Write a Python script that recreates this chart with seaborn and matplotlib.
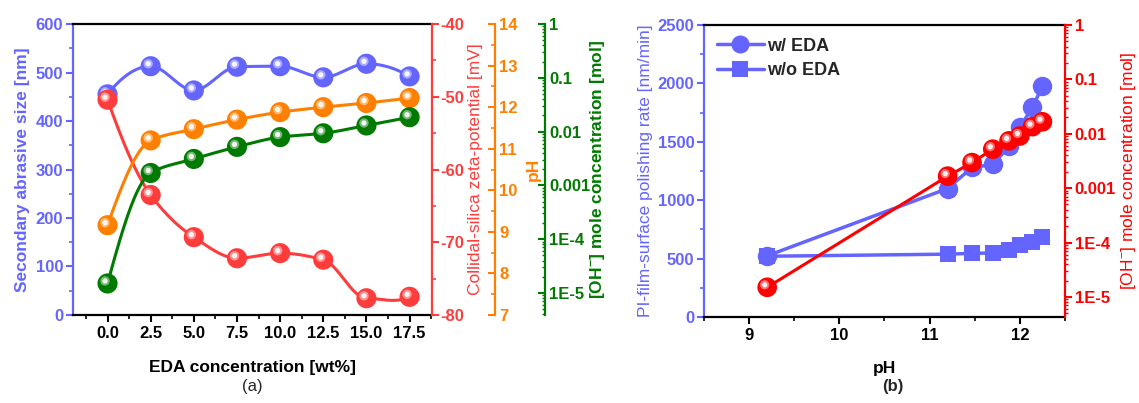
import numpy as np
import matplotlib
matplotlib.use("Agg")
import matplotlib.pyplot as plt
import matplotlib.transforms as mtransforms
from matplotlib.lines import Line2D
from matplotlib.ticker import MultipleLocator, LogLocator, FixedFormatter, FixedLocator, NullFormatter
import seaborn as sns

# ---- data: panel (a) ----
eda_wt = [0.0, 2.5, 5.0, 7.5, 10.0, 12.5, 15.0, 17.5]
abrasive_size = [455, 513, 463, 512, 513, 490, 518, 492]
zeta_potential = [-50.4, -63.5, -69.3, -72.2, -71.5, -72.4, -77.7, -77.5]
ph_a = [9.16, 11.2, 11.47, 11.7, 11.88, 12.0, 12.1, 12.22]
oh_a = [1.5e-5, 1.7e-3, 3.1e-3, 5.2e-3, 7.9e-3, 9.3e-3, 1.3e-2, 1.85e-2]

# ---- data: panel (b) ----
ph_b = [9.2, 11.2, 11.47, 11.7, 11.88, 12.0, 12.14, 12.25]
rate_with_eda = [524, 1100, 1280, 1306, 1460, 1624, 1795, 1976]
rate_without_eda = [520, 538, 545, 548, 575, 615, 640, 688]
oh_b = [1.5e-5, 1.66e-3, 2.95e-3, 5.2e-3, 7.4e-3, 9.1e-3, 1.35e-2, 1.66e-2]

log_ticks = [1e-5, 1e-4, 1e-3, 1e-2, 1e-1, 1]
log_labels = ["1E-5", "1E-4", "0.001", "0.01", "0.1", "1"]

BLUE = "#6464ff"
RED = "#ff3c3c"
RED_B = "#ff0000"
ORANGE = "#ff8000"
GREEN = "#007a00"
TICK_FS = 12
LABEL_FS = 12.5

sns.set_theme(style="white")
plt.rcParams["font.family"] = ["Liberation Sans", "DejaVu Sans"]
plt.rcParams["mathtext.fontset"] = "custom"
plt.rcParams["mathtext.rm"] = "Liberation Sans"
plt.rcParams["mathtext.bf"] = "Liberation Sans:bold"
plt.rcParams["axes.unicode_minus"] = False


def smooth(x, y, n=24):
    # monotone cubic (PCHIP) curve through the points, for drawing only
    x = np.asarray(x, float)
    y = np.asarray(y, float)
    h = np.diff(x)
    delta = np.diff(y) / h
    d = np.zeros_like(y)
    for k in range(1, len(x) - 1):
        if delta[k - 1] * delta[k] > 0:
            w1 = 2 * h[k] + h[k - 1]
            w2 = h[k] + 2 * h[k - 1]
            d[k] = (w1 + w2) / (w1 / delta[k - 1] + w2 / delta[k])
    for k, (ha, hb, da, db) in ((0, (h[0], h[1], delta[0], delta[1])),
                                (-1, (h[-1], h[-2], delta[-1], delta[-2]))):
        v = ((2 * ha + hb) * da - ha * db) / (ha + hb)
        if np.sign(v) != np.sign(da):
            v = 0.0
        d[k] = v
    xs, ys = [], []
    t = np.linspace(0, 1, n, endpoint=False)
    for k in range(len(x) - 1):
        h00 = 2 * t ** 3 - 3 * t ** 2 + 1
        h10 = t ** 3 - 2 * t ** 2 + t
        h01 = -2 * t ** 3 + 3 * t ** 2
        h11 = t ** 3 - t ** 2
        xs.append(x[k] + t * h[k])
        ys.append(h00 * y[k] + h10 * h[k] * d[k] + h01 * y[k + 1] + h11 * h[k] * d[k + 1])
    xs.append([x[-1]])
    ys.append([y[-1]])
    return np.concatenate(xs), np.concatenate(ys)


def balls(ax, x, y, color, size=210, z=5):
    sns.scatterplot(x=x, y=y, ax=ax, color=color, s=size, edgecolor="none", zorder=z, legend=False)
    off = mtransforms.offset_copy(ax.transData, fig=ax.figure, x=-2.5, y=2.5, units="dots")
    sns.scatterplot(x=x, y=y, ax=ax, color="white", s=size * 0.22, alpha=0.45, edgecolor="none",
                    zorder=z + 0.1, legend=False, transform=off)
    sns.scatterplot(x=x, y=y, ax=ax, color="white", s=size * 0.07, alpha=0.9, edgecolor="none",
                    zorder=z + 0.2, legend=False, transform=off)


def style_axis_color(ax, side, color):
    ax.spines[side].set_color(color)
    ax.spines[side].set_linewidth(1.6)
    ax.tick_params(axis="y", which="both", colors=color)


fig = plt.figure(figsize=(11.39, 4.03), dpi=100)

# ================= panel (a) =================
ax = fig.add_axes([0.0641, 0.2184, 0.3152, 0.722])
axr = ax.twinx()
axo = ax.twinx()
axg = ax.twinx()

xs, ys = smooth(eda_wt, abrasive_size)
sns.lineplot(x=xs, y=ys, ax=ax, color=BLUE, lw=2.2, sort=False, estimator=None)
balls(ax, eda_wt, abrasive_size, BLUE)

xs, ys = smooth(eda_wt, zeta_potential)
sns.lineplot(x=xs, y=ys, ax=axr, color=RED, lw=2.2, sort=False, estimator=None)
balls(axr, eda_wt, zeta_potential, RED)

xs, ys = smooth(eda_wt, ph_a)
sns.lineplot(x=xs, y=ys, ax=axo, color=ORANGE, lw=2.2, sort=False, estimator=None)
balls(axo, eda_wt, ph_a, ORANGE)

xs, ys = smooth(eda_wt, np.log10(oh_a))
axg.set_yscale("log")
sns.lineplot(x=xs, y=10 ** ys, ax=axg, color=GREEN, lw=2.2, sort=False, estimator=None)
balls(axg, eda_wt, oh_a, GREEN)

ax.set_xlim(-2.0, 18.8)
ax.set_ylim(0, 600)
axr.set_ylim(-80, -40)
axo.set_ylim(7, 14)
axg.set_ylim(10 ** -5.41, 1)

ax.xaxis.set_major_locator(FixedLocator(eda_wt))
ax.xaxis.set_major_formatter(FixedFormatter(["0.0", "2.5", "5.0", "7.5", "10.0", "12.5", "15.0", "17.5"]))
ax.xaxis.set_minor_locator(MultipleLocator(1.25))
ax.yaxis.set_major_locator(MultipleLocator(100))
ax.yaxis.set_minor_locator(MultipleLocator(50))
axr.yaxis.set_major_locator(MultipleLocator(10))
axr.yaxis.set_minor_locator(MultipleLocator(5))
axo.yaxis.set_major_locator(MultipleLocator(1))
axo.yaxis.set_minor_locator(MultipleLocator(0.5))
axg.yaxis.set_major_locator(FixedLocator(log_ticks))
axg.yaxis.set_major_formatter(FixedFormatter(log_labels))
axg.yaxis.set_minor_locator(LogLocator(base=10, subs=np.arange(2, 10), numticks=20))
axg.yaxis.set_minor_formatter(NullFormatter())

for a in (ax, axr, axo, axg):
    for s in a.spines.values():
        s.set_visible(False)
ax.spines["left"].set_visible(True)
ax.spines["bottom"].set_visible(True)
ax.spines["top"].set_visible(True)
for s in ("bottom", "top"):
    ax.spines[s].set_color("black")
    ax.spines[s].set_linewidth(1.6)
style_axis_color(ax, "left", BLUE)
axr.spines["right"].set_visible(True)
style_axis_color(axr, "right", RED)
axo.spines["right"].set_visible(True)
axo.spines["right"].set_position(("axes", 1.175))
style_axis_color(axo, "right", ORANGE)
axg.spines["right"].set_visible(True)
axg.spines["right"].set_position(("axes", 1.315))
style_axis_color(axg, "right", GREEN)

ax.tick_params(axis="x", which="major", direction="out", length=5, width=1.5, colors="black",
               bottom=True, labelsize=TICK_FS, pad=3)
ax.tick_params(axis="x", which="minor", direction="out", length=3, width=1.2, bottom=True, colors="black")
ax.tick_params(axis="y", which="major", direction="out", length=5, width=1.5, left=True, labelsize=TICK_FS, pad=2)
ax.tick_params(axis="y", which="minor", direction="out", length=3, width=1.2, left=True)
axr.tick_params(axis="y", which="major", direction="out", length=5, width=1.5, right=True, labelsize=TICK_FS, pad=1)
axr.tick_params(axis="y", which="minor", direction="out", length=3, width=1.2, right=True)
axo.tick_params(axis="y", which="major", direction="in", length=5, width=1.5, right=True, labelsize=TICK_FS, pad=3)
axo.tick_params(axis="y", which="minor", direction="in", length=3, width=1.2, right=True)
axg.tick_params(axis="y", which="major", direction="in", length=5, width=1.5, right=True, labelsize=TICK_FS, pad=3)
axg.tick_params(axis="y", which="minor", direction="in", length=2.5, width=1.0, right=True)

for lab in ax.get_xticklabels() + ax.get_yticklabels():
    lab.set_fontweight("bold")
for a in (axr, axo, axg):
    for lab in a.get_yticklabels():
        lab.set_fontweight("bold")

ax.set_xlabel("EDA concentration [wt%]", fontsize=LABEL_FS, fontweight="bold", color="black")
ax.xaxis.set_label_coords(0.5, -0.155)
ax.set_ylabel("Secondary abrasive size [nm]", fontsize=LABEL_FS, fontweight="bold", color=BLUE)
axr.set_ylabel("Collidal-silica zeta-potential [mV]", fontsize=LABEL_FS, color=RED)
axo.set_ylabel("pH", fontsize=LABEL_FS, fontweight="bold", color=ORANGE)
axg.set_ylabel(r"[OH$^{\mathbf{-}}$] mole concentration [mol]", fontsize=LABEL_FS, fontweight="bold", color=GREEN)
for a, xc in ((ax, -0.142), (axr, 1.12), (axo, 1.281), (axg, 1.46)):
    a.yaxis.label.set_va("center")
    a.yaxis.set_label_coords(xc, 0.5)
for a in (ax, axr, axo, axg):
    a.grid(False)

# ================= panel (b) =================
bx = fig.add_axes([0.6181, 0.2134, 0.3169, 0.7246])
bxr = bx.twinx()

sns.lineplot(x=ph_b, y=rate_with_eda, ax=bx, color=BLUE, lw=2.5, marker="o", markersize=14,
             markeredgewidth=0, sort=False, estimator=None)
sns.lineplot(x=ph_b, y=rate_without_eda, ax=bx, color=BLUE, lw=2.5, marker="s", markersize=12,
             markeredgewidth=0, sort=False, estimator=None)
bxr.set_yscale("log")
sns.lineplot(x=ph_b, y=oh_b, ax=bxr, color=RED_B, lw=2.2, sort=False, estimator=None)
balls(bxr, ph_b, oh_b, RED_B, size=200)

bx.set_xlim(8.5, 12.5)
bx.set_ylim(0, 2500)
bxr.set_ylim(10 ** -5.37, 1)
bx.xaxis.set_major_locator(MultipleLocator(1))
bx.xaxis.set_minor_locator(MultipleLocator(0.5))
bx.yaxis.set_major_locator(MultipleLocator(500))
bx.yaxis.set_minor_locator(MultipleLocator(250))
bxr.yaxis.set_major_locator(FixedLocator(log_ticks))
bxr.yaxis.set_major_formatter(FixedFormatter(log_labels))
bxr.yaxis.set_minor_locator(LogLocator(base=10, subs=np.arange(2, 10), numticks=20))
bxr.yaxis.set_minor_formatter(NullFormatter())

for a in (bx, bxr):
    for s in a.spines.values():
        s.set_visible(False)
for s in ("left", "bottom", "top"):
    bx.spines[s].set_visible(True)
for s in ("bottom", "top"):
    bx.spines[s].set_color("black")
    bx.spines[s].set_linewidth(1.6)
style_axis_color(bx, "left", BLUE)
bxr.spines["right"].set_visible(True)
style_axis_color(bxr, "right", RED_B)

bx.tick_params(axis="x", which="major", direction="out", length=5, width=1.5, colors="black",
               bottom=True, labelsize=TICK_FS, pad=3)
bx.tick_params(axis="x", which="minor", direction="out", length=3, width=1.2, bottom=True, colors="black")
bx.tick_params(axis="y", which="major", direction="out", length=5, width=1.5, left=True, labelsize=TICK_FS, pad=2)
bx.tick_params(axis="y", which="minor", direction="out", length=3, width=1.2, left=True)
bxr.tick_params(axis="y", which="major", direction="out", length=5, width=1.5, right=True, labelsize=TICK_FS, pad=2)
bxr.tick_params(axis="y", which="minor", direction="out", length=2.5, width=1.0, right=True)
for lab in bx.get_xticklabels() + bx.get_yticklabels() + bxr.get_yticklabels():
    lab.set_fontweight("bold")

bx.set_xlabel("pH", fontsize=LABEL_FS, fontweight="bold", color="black")
bx.xaxis.set_label_coords(0.5, -0.15)
bx.set_ylabel("PI-film-surface polishing rate [nm/min]", fontsize=LABEL_FS, color=BLUE)
bxr.set_ylabel(r"[OH$^{-}$] mole concentration [mol]", fontsize=LABEL_FS, color=RED_B)
for a, xc in ((bx, -0.163), (bxr, 1.175)):
    a.yaxis.label.set_va("center")
    a.yaxis.set_label_coords(xc, 0.5)
bx.grid(False)
bxr.grid(False)

handles = [
    Line2D([], [], color=BLUE, lw=2.5, marker="o", markersize=13, markeredgewidth=0),
    Line2D([], [], color=BLUE, lw=2.5, marker="s", markersize=12, markeredgewidth=0),
]
bx.legend(handles, ["w/ EDA", "w/o EDA"], loc="upper left", frameon=False,
          prop={"weight": "bold", "size": 13}, handlelength=2.6, handletextpad=0.2,
          borderaxespad=0.3, labelspacing=0.4)

fig.text(0.2217, 0.040, "(a)", ha="center", va="center", fontsize=12)
fig.text(0.784, 0.040, "(b)", ha="center", va="center", fontsize=12, fontweight="bold")

fig.savefig("out.png", dpi=100)
